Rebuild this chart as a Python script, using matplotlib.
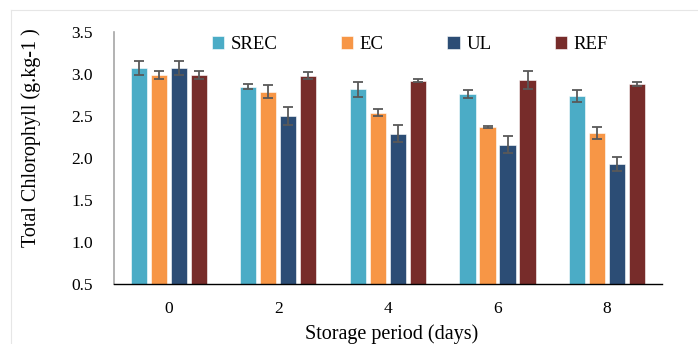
import matplotlib.pyplot as plt
import numpy as np
from matplotlib.lines import Line2D

plt.rcParams['font.family'] = ['Liberation Serif', 'DejaVu Serif']

# Data
days = ['0', '2', '4', '6', '8']
series = ['SREC', 'EC', 'UL', 'REF']
srec = [3.07, 2.85, 2.82, 2.76, 2.74]
ec = [2.99, 2.79, 2.54, 2.37, 2.30]
ul = [3.07, 2.50, 2.29, 2.16, 1.93]
ref = [2.99, 2.98, 2.92, 2.93, 2.88]
srec_err = [0.08, 0.03, 0.09, 0.05, 0.075]
ec_err = [0.045, 0.08, 0.04, 0.01, 0.07]
ul_err = [0.08, 0.11, 0.10, 0.10, 0.08]
ref_err = [0.045, 0.04, 0.015, 0.105, 0.02]

values = [srec, ec, ul, ref]
errors = [srec_err, ec_err, ul_err, ref_err]
colors = ['#4BACC6', '#F79646', '#2C4D75', '#772C2A']

fig = plt.figure(figsize=(6.98, 3.44), dpi=100)
ax = fig.add_axes([0.1633, 0.1744, 0.7851, 0.7326])

x = np.arange(len(days))
pitch = 0.1825
width = 0.148
for i, (vals, errs, col, name) in enumerate(zip(values, errors, colors, series)):
    pos = x + (i - 1.5) * pitch
    ax.bar(pos, np.array(vals) - 0.5, width, bottom=0.5, color=col,
           edgecolor='white', linewidth=0.4, label=name, zorder=2)
    ax.errorbar(pos, vals, yerr=errs, fmt='none', ecolor='#595959',
                elinewidth=1.3, capsize=3.5, capthick=1.3, zorder=3)

ax.set_xlim(-0.5, 4.5)
ax.set_ylim(0.5, 3.5)
ax.set_xticks(x)
ax.set_xticklabels(days)
ax.set_yticks(np.arange(0.5, 3.51, 0.5))
ax.set_yticklabels(['%.1f' % v for v in np.arange(0.5, 3.51, 0.5)])
ax.tick_params(length=0, labelsize=12.5)
ax.tick_params(axis='y', pad=15)
ax.tick_params(axis='x', pad=12)

for s in ['top', 'right']:
    ax.spines[s].set_visible(False)
ax.spines['left'].set_color('#A6A6A6')
ax.spines['left'].set_linewidth(1.2)
ax.spines['bottom'].set_color('black')
ax.spines['bottom'].set_linewidth(1.0)

ax.set_xlabel('Storage period (days)', fontsize=14.5)
ax.xaxis.set_label_coords(0.507, -0.158)
ax.set_ylabel('Total Chlorophyll (g.kg-1 )', fontsize=14.5)
ax.yaxis.set_label_coords(-0.133, 0.58)

ax.legend(loc='upper center', bbox_to_anchor=(0.54, 1.05), ncol=4, frameon=False,
          fontsize=13.5, handlelength=0.65, handleheight=0.65, handletextpad=0.35,
          columnspacing=3.4)

# faint outer chart border (top and left)
fig.add_artist(Line2D([0.016, 1.0], [0.971, 0.971], transform=fig.transFigure,
                      color='#E6E6E6', linewidth=0.8))
fig.add_artist(Line2D([0.016, 0.016], [0.0, 0.971], transform=fig.transFigure,
                      color='#E6E6E6', linewidth=0.8))

fig.savefig('out.png', dpi=100)
